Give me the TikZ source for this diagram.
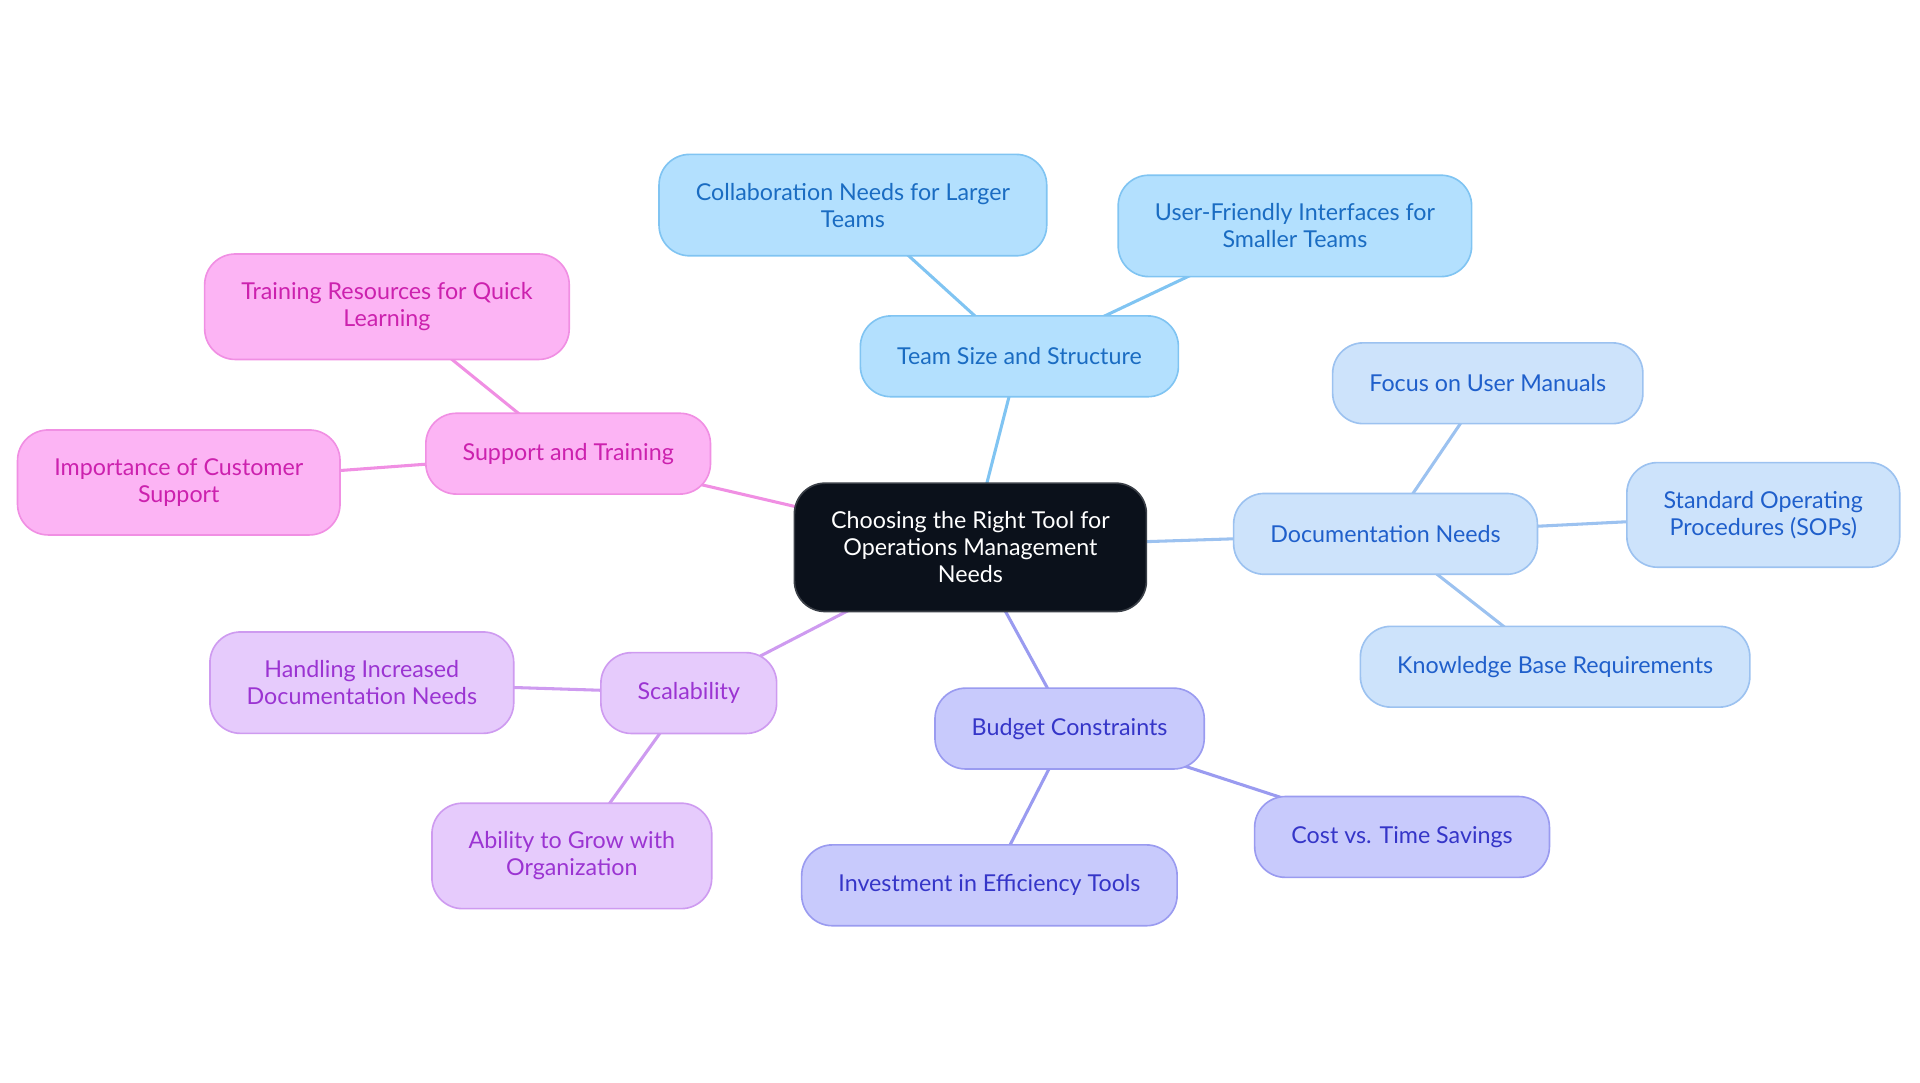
\documentclass[tikz,border=0pt]{standalone}
\usepackage{fontspec}
\setmainfont{Lato}
\usetikzlibrary{backgrounds}
\definecolor{hubfill}{HTML}{0B111B}
\definecolor{hubline}{HTML}{3A3F47}
\definecolor{teamfill}{HTML}{B3E0FE}
\definecolor{teamline}{HTML}{80C4F2}
\definecolor{teamtext}{HTML}{1A6CC2}
\definecolor{docfill}{HTML}{CDE3FB}
\definecolor{docline}{HTML}{9CC2F0}
\definecolor{doctext}{HTML}{1F5FCB}
\definecolor{budgetfill}{HTML}{C8CAFC}
\definecolor{budgetline}{HTML}{9A9BF0}
\definecolor{budgettext}{HTML}{3535C8}
\definecolor{scalefill}{HTML}{E6CBFC}
\definecolor{scaleline}{HTML}{CE9BF0}
\definecolor{scaletext}{HTML}{9B34D2}
\definecolor{supportfill}{HTML}{FCB4F4}
\definecolor{supportline}{HTML}{F08FE3}
\definecolor{supporttext}{HTML}{CC21AE}
\begin{document}
\begin{tikzpicture}[x=0.6pt,y=-0.6pt]
  % Styles for the mind map
  \tikzset{
    box/.style={
      draw,
      rounded corners=15pt,
      line width=0.8pt,
      align=center,
      inner xsep=18pt,
      inner ysep=14pt,
      minimum height=39.6pt,
      font=\fontsize{11.4}{13.2}\selectfont
    },
    hubnode/.style={box, fill=hubfill, draw=hubline, text=white},
    teamnode/.style={box, fill=teamfill, draw=teamline, text=teamtext},
    docnode/.style={box, fill=docfill, draw=docline, text=doctext},
    budgetnode/.style={box, fill=budgetfill, draw=budgetline, text=budgettext},
    scalenode/.style={box, fill=scalefill, draw=scaleline, text=scaletext},
    supportnode/.style={box, fill=supportfill, draw=supportline, text=supporttext},
    link/.style={line width=1.5pt}
  }
  \useasboundingbox (0,0) rectangle (1568,884.4);

  % Central topic
  \node[hubnode] (root) at (792.5,447) {Choosing the Right Tool for\\Operations Management\\Needs};

  % Team branch
  \node[teamnode] (team) at (832.5,291) {Team Size and Structure};
  \node[teamnode] (collab) at (696.5,167.5) {Collaboration Needs for Larger\\Teams};
  \node[teamnode] (small) at (1057.5,184.5) {User-Friendly Interfaces for\\Smaller Teams};

  % Documentation branch
  \node[docnode] (docs) at (1131.5,436) {Documentation Needs};
  \node[docnode] (manual) at (1215,313) {Focus on User Manuals};
  \node[docnode] (sop) at (1440,420.5) {Standard Operating\\Procedures (SOPs)};
  \node[docnode] (kb) at (1270,544.5) {Knowledge Base Requirements};

  % Budget branch
  \node[budgetnode] (budget) at (873.5,595) {Budget Constraints};
  \node[budgetnode] (cost) at (1145,683.5) {Cost vs. Time Savings};
  \node[budgetnode] (invest) at (808,723) {Investment in Efficiency Tools};

  % Scalability branch
  \node[scalenode] (scal) at (562.5,566) {Scalability};
  \node[scalenode] (handle) at (295.5,557.5) {Handling Increased\\Documentation Needs};
  \node[scalenode] (grow) at (467,699) {Ability to Grow with\\Organization};

  % Support branch
  \node[supportnode] (support) at (464,370.5) {Support and Training};
  \node[supportnode] (learn) at (316,250.5) {Training Resources for Quick\\Learning};
  \node[supportnode] (help) at (146,394) {Importance of Customer\\Support};

  % Connectors behind the boxes
  \begin{pgfonlayer}{background}
    \foreach \a/\b/\c in {root/team/teamline, team/collab/teamline, team/small/teamline,
        root/docs/docline, docs/manual/docline, docs/sop/docline, docs/kb/docline,
        root/budget/budgetline, budget/cost/budgetline, budget/invest/budgetline,
        root/scal/scaleline, scal/handle/scaleline, scal/grow/scaleline,
        root/support/supportline, support/learn/supportline, support/help/supportline} {
      \draw[link, draw=\c] (\a.center) -- (\b.center);
    }
  \end{pgfonlayer}
\end{tikzpicture}
\end{document}
